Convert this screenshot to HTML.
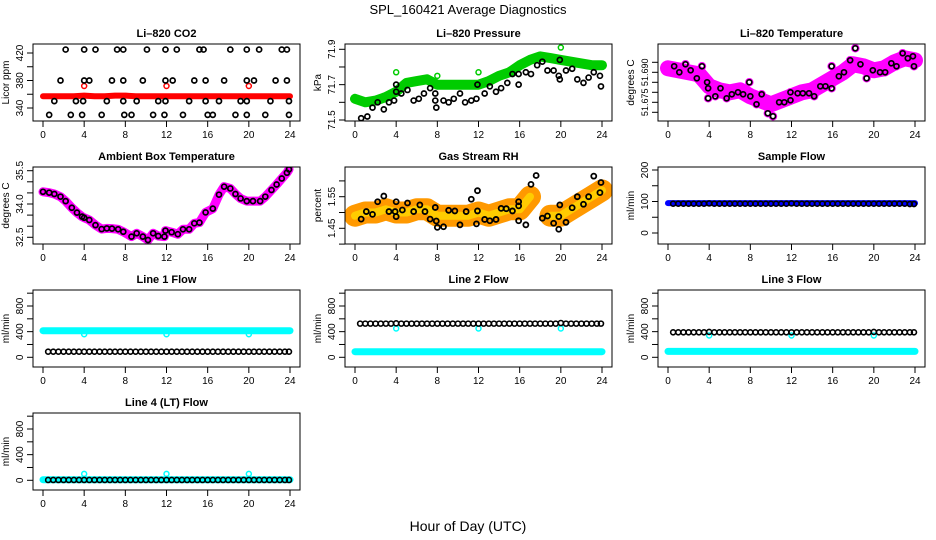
<!DOCTYPE html>
<html><head><meta charset="utf-8">
<style>
html,body{margin:0;padding:0;background:#fff;}
svg{display:block;font-family:"Liberation Sans",sans-serif;}
</style></head>
<body>
<svg id="fig" width="936" height="540" viewBox="0 0 936 540" xmlns="http://www.w3.org/2000/svg">
<text x="468" y="14" text-anchor="middle" font-size="13">SPL_160421  Average Diagnostics</text>
<text x="468" y="531" text-anchor="middle" font-size="14">Hour of Day (UTC)</text>
</svg>
<script>
// ---------- data ----------
const co2Hours = [2.2,4.0,5.1,7.2,7.8,10.1,11.9,13.0,15.2,15.6,18.2,19.8,21.0,23.2,23.7,
 1.7,4.0,4.5,6.7,7.8,9.7,11.9,12.6,14.7,15.8,17.6,19.8,20.5,22.6,23.7,
 1.1,3.2,3.9,6.2,7.8,9.1,11.2,11.9,14.2,15.8,17.1,19.2,19.8,22.1,23.9,
 0.6,2.7,3.8,5.7,7.9,8.6,10.7,11.8,13.6,16.0,16.5,18.7,19.8,21.6,23.9];
const co2Vals = [425,425,425,425,425,425,425,425,425,425,425,425,425,425,425,
 380,380,380,380,380,380,380,380,380,380,380,380,380,380,380,
 350,350,350,350,350,350,350,350,350,350,350,350,350,350,350,
 330,330,330,330,330,330,330,330,330,330,330,330,330,330,330];
const hourly = [0,1,2,3,4,5,6,7,8,9,10,11,12,13,14,15,16,17,18,19,20,21,22,23,24];
const co2Red = [357,357,357,357,358,357,357,358,358,357,357,357,357,357,357,357,357,357,357,357,357,357,357,357,357];
const spikeHours = [4,12,20];
const co2RedSpikes = [372,372,372];

const presGreen = [71.62,71.60,71.61,71.63,71.66,71.71,71.72,71.73,71.70,71.70,71.70,71.70,71.70,71.72,71.75,71.77,71.81,71.84,71.86,71.85,71.84,71.83,71.82,71.81,71.81];
const presGreenOut = [71.77,71.75,71.77,71.91];
const presGreenOutHours = [4,8,12,20];
const presHours = [0.6,1.2,1.7,2.2,2.8,3.3,3.8,4.0,4.0,4.5,5.1,5.7,6.2,6.7,7.3,7.8,7.8,7.9,8.6,9.1,9.6,10.2,10.7,11.3,11.8,11.9,12.6,13.1,13.7,14.2,14.8,15.3,15.9,15.9,16.6,17.1,17.7,18.2,18.7,19.3,19.8,19.9,19.9,20.5,21.1,21.6,22.2,22.7,23.2,23.8,23.9];
const presVals = [71.51,71.52,71.57,71.60,71.56,71.60,71.61,71.70,71.66,71.65,71.67,71.61,71.62,71.65,71.68,71.65,71.61,71.57,71.61,71.60,71.62,71.65,71.60,71.61,71.62,71.70,71.65,71.69,71.66,71.68,71.71,71.76,71.76,71.70,71.77,71.76,71.81,71.83,71.78,71.78,71.75,71.73,71.84,71.78,71.79,71.73,71.71,71.74,71.77,71.75,71.69];

const ltMagenta = [51.692,51.691,51.690,51.689,51.683,51.681,51.680,51.681,51.678,51.676,51.674,51.676,51.678,51.680,51.681,51.684,51.687,51.690,51.694,51.693,51.691,51.692,51.695,51.697,51.696];
const ltHours = [0.6,1.1,1.7,2.2,2.8,3.3,3.8,3.9,3.9,4.6,5.1,5.7,6.2,6.8,7.3,7.9,8.0,8.6,9.1,9.7,10.2,10.8,11.3,11.9,11.9,12.6,13.1,13.7,14.2,14.8,15.3,15.9,15.9,16.6,17.1,17.7,18.2,18.7,19.3,19.9,20.6,21.1,21.7,22.2,22.8,23.3,23.8,23.9];
const ltVals = [51.693,51.690,51.694,51.691,51.687,51.693,51.685,51.677,51.682,51.678,51.682,51.677,51.679,51.680,51.679,51.685,51.678,51.674,51.679,51.6695,51.668,51.675,51.675,51.680,51.676,51.6795,51.6795,51.6795,51.678,51.683,51.683,51.682,51.693,51.688,51.690,51.696,51.702,51.694,51.687,51.691,51.690,51.690,51.6945,51.693,51.6995,51.697,51.698,51.693];

const ambHours = [0,0.6,1.1,1.7,2.2,2.8,3.3,3.8,4.0,4.5,5.1,5.7,6.2,6.7,7.3,7.8,8.6,9.1,9.7,10.2,10.7,11.2,11.8,11.9,12.5,13.1,13.6,14.2,14.7,15.2,15.8,16.5,17.1,17.6,18.2,18.7,19.2,19.8,20.4,21.1,21.6,22.2,22.7,23.2,23.7,23.9];
const ambVals = [34.55,34.51,34.45,34.33,34.13,33.83,33.61,33.43,33.38,33.28,33.05,32.87,32.90,32.89,32.86,32.75,32.53,32.68,32.53,32.38,32.68,32.56,32.53,32.80,32.73,32.64,32.86,32.86,33.13,33.16,33.62,33.79,34.42,34.78,34.70,34.45,34.25,34.13,34.13,34.13,34.33,34.63,34.88,35.15,35.41,35.56];

const rhBand = [1.49,1.50,1.50,1.51,1.50,1.50,1.51,1.51,1.49,1.49,1.49,1.49,1.50,1.49,1.50,1.51,1.51,1.55,null,1.49,1.49,1.51,1.53,1.55,1.57];
const rhHours = [0.6,1.1,1.7,2.2,2.8,3.3,3.9,4.0,4.0,4.6,5.1,5.7,6.3,6.8,7.3,7.8,7.9,8.0,8.6,9.1,9.7,10.2,10.8,11.3,11.8,11.9,11.9,12.6,13.1,13.7,14.2,14.7,15.3,15.9,15.9,15.9,16.6,17.1,17.6,18.2,18.7,19.3,19.8,19.9,19.8,20.5,21.1,21.6,22.2,22.7,23.2,23.8,23.9];
const rhVals = [1.479,1.503,1.494,1.534,1.552,1.503,1.503,1.534,1.487,1.508,1.530,1.503,1.524,1.503,1.479,1.516,1.473,1.453,1.455,1.507,1.505,1.461,1.503,1.542,1.464,1.505,1.569,1.478,1.474,1.478,1.513,1.512,1.505,1.534,1.521,1.474,1.461,1.589,1.617,1.482,1.489,1.466,1.487,1.524,1.447,1.469,1.515,1.550,1.526,1.550,1.615,1.563,1.595];

const sampleBlue = [95,95,95,95,95,95,95,95,95,95,95,95,95,95,95,95,95,95,95,95,95,95,95,95,95];
const flowHours = [0.5,1,1.5,2,2.5,3,3.5,4,4.5,5,5.5,6,6.5,7,7.5,8,8.5,9,9.5,10,10.5,11,11.5,12,12.5,13,13.5,14,14.5,15,15.5,16,16.5,17,17.5,18,18.5,19,19.5,20,20.5,21,21.5,22,22.5,23,23.5,23.9];
const sampleBlack = [93,93,93,93,93,93,93,94,93,93,93,93,93,93,93,93,93,93,93,93,93,93,93,94,93,93,93,93,93,93,93,93,93,93,93,93,93,93,93,93,93,93,93,93,93,93,92,92];
const line1Cyan = [415,415,415,415,415,415,415,415,415,415,415,415,415,415,415,415,415,415,415,415,415,415,415,415,415];
const line1CyanSpikes = [360,360,360];
const line1Black = [88,88,88,88,88,88,88,88,88,88,88,88,88,88,88,88,88,88,88,88,88,88,88,88,88,88,88,88,88,88,88,88,88,88,88,88,88,88,88,88,88,88,88,88,88,88,88,88];
const line2Cyan = [88,88,88,88,88,88,88,88,88,88,88,88,88,88,88,88,88,88,88,88,88,88,88,88,88];
const line2CyanSpikes = [450,450,450];
const line2Black = [525,525,525,525,525,525,525,530,525,525,525,525,525,525,525,525,525,525,525,525,525,525,525,525,525,525,525,525,525,525,525,525,525,525,525,525,525,525,525,535,525,525,525,525,525,525,525,525];
const line3Cyan = [92,92,92,92,92,92,92,92,92,92,92,92,92,92,92,92,92,92,92,92,92,92,92,92,92];
const line3CyanSpikes = [340,340,340];
const line3Black = [390,390,390,390,390,390,390,395,390,390,390,390,390,390,390,390,390,390,390,390,390,390,390,390,390,390,390,390,390,390,390,390,390,390,390,390,390,390,390,395,390,390,390,390,390,390,390,390];
const line4Cyan = [10,10,10,10,10,10,10,10,10,10,10,10,10,10,10,10,10,10,10,10,10,10,10,10,10];
const line4CyanSpikes = [100,100,100];
const line4Black = [5,5,5,5,5,5,5,5,5,5,5,5,5,5,5,5,5,5,5,5,5,5,5,5,5,5,5,5,5,5,5,5,5,5,5,5,5,5,5,5,5,5,5,5,5,5,5,5];

const xTicks = [0,4,8,12,16,20,24];

// ---------- drawing ----------
const NS = 'http://www.w3.org/2000/svg';
const svg = document.getElementById('fig');
const COLS = [33,345,658], ROWS = [44,167,290,413], W = 267, H = 77;
let clipId = 0;
function mk(tag, attrs, parent){
  const e = document.createElementNS(NS, tag);
  for (const k in attrs) e.setAttribute(k, attrs[k]);
  (parent||svg).appendChild(e);
  return e;
}
function makePanel(col,row,name,title,ylab,cal,ticks,labels,lfs){
  const L = COLS[col], T = ROWS[row];
  const g = mk('g',{});
  
  
  const x = h => L + 10 + h*(W-20)/24;
  const y = v => T + cal[1] + (v-cal[0])*(cal[3]-cal[1])/(cal[2]-cal[0]);
  const t = mk('text',{x:L+W/2,y:T-7,'text-anchor':'middle','font-size':11,'font-weight':'bold'},g);
  t.textContent = title;
  
  
  const yl = mk('text',{x:0,y:0,'text-anchor':'middle','font-size':10,transform:`translate(${L-24},${T+H/2}) rotate(-90)`},g);
  yl.textContent = ylab;
  
  
  const xa = mk('g',{},g);
  
  
  mk('line',{x1:x(0),x2:x(24),y1:T+H,y2:T+H,stroke:'#000'},xa);
  xTicks.forEach(v=>{
    mk('line',{x1:x(v),x2:x(v),y1:T+H,y2:T+H+6,stroke:'#000'},xa);
    const tl = mk('text',{x:x(v),y:T+H+17,'text-anchor':'middle','font-size':10},xa);
    tl.textContent = v;
  });
  const ya = mk('g',{},g);
  
  
  mk('line',{x1:L,x2:L,y1:y(ticks[0]),y2:y(ticks[ticks.length-1]),stroke:'#000'},ya);
  ticks.forEach(v=>{
    mk('line',{x1:L-6,x2:L,y1:y(v),y2:y(v),stroke:'#000'},ya);
  });
  labels.forEach(v=>{
    const tl = mk('text',{x:0,y:0,'text-anchor':'middle','font-size':lfs||10,transform:`translate(${L-10},${y(v[0])}) rotate(-90)`},ya);
    tl.textContent = v[1];
  });
  const cid = 'c'+(clipId++);
  const cp = mk('clipPath',{id:cid},g);
  mk('rect',{x:L,y:T,width:W,height:H},cp);
  const plot = mk('g',{'clip-path':`url(#${cid})`},g);
  
  
  mk('rect',{x:L,y:T,width:W,height:H,fill:'none',stroke:'#000'},g);
  return {x,y,plot};
}
function band(p,hours,vals,color,width,name){
  let segs=[], cur=[];
  hours.forEach((h,i)=>{ if(vals[i]==null){ if(cur.length) segs.push(cur); cur=[]; } else cur.push(p.x(h).toFixed(1)+','+p.y(vals[i]).toFixed(1)); });
  if(cur.length) segs.push(cur);
  segs.forEach(s=>{
    const pl = mk('polyline',{points:s.join(' '),fill:'none',stroke:color,'stroke-width':width,'stroke-linejoin':'round','stroke-linecap':'round'},p.plot);
    
    
  });
}
function pts(p,hours,vals,color,r,sw,name){
  hours.forEach((h,i)=>{
    const c = mk('circle',{cx:p.x(h),cy:p.y(vals[i]),r:r,fill:'none',stroke:color,'stroke-width':sw},p.plot);
    
    
  });
}

let p = makePanel(0,0,'co2','Li\u2013820 CO2','Licor ppm',[340,64,420,9],[340,360,380,400,420],[[340,'340'],[380,'380'],[420,'420']]);
band(p,hourly,co2Red,'#ff0000',6,'co2-red-series');
pts(p,spikeHours,co2RedSpikes,'#ff0000',2.5,1.5,'co2-red-outlier');
pts(p,co2Hours,co2Vals,'#000',2.5,1.7,'co2-point');

p = makePanel(1,0,'pressure','Li\u2013820 Pressure','kPa',[71.5,76,71.9,5.3],[71.5,71.6,71.7,71.8,71.9],[[71.5,'71.5'],[71.7,'71.7'],[71.9,'71.9']]);
band(p,hourly,presGreen,'#00cc00',10,'pressure-green-series');
pts(p,presGreenOutHours,presGreenOut,'#00cc00',2.5,1.5,'pressure-green-outlier');
pts(p,presHours,presVals,'#000',2.5,1.7,'pressure-point');

p = makePanel(2,0,'li820-temp','Li\u2013820 Temperature','degrees C',[51.675,58.3,51.690,28.3],[51.670,51.675,51.680,51.685,51.690,51.695],[[51.675,'51.675'],[51.690,'51.690']],9);
band(p,hourly,ltMagenta,'#ff00ff',16,'li820-temp-magenta-series');
pts(p,ltHours,ltVals,'#ff00ff',3.5,1.5,'li820-temp-magenta-point');
pts(p,ltHours,ltVals,'#000',2.5,1.7,'li820-temp-point');

p = makePanel(0,1,'ambient-temp','Ambient Box Temperature','degrees C',[32.5,70.3,35.5,3.7],[32.5,33,33.5,34,34.5,35,35.5],[[32.5,'32.5'],[34.0,'34.0'],[35.5,'35.5']]);
band(p,ambHours,ambVals,'#ff00ff',9,'ambient-temp-magenta-series');
pts(p,ambHours,ambVals,'#000',2.5,1.7,'ambient-temp-point');

p = makePanel(1,1,'gas-rh','Gas Stream RH','percent',[1.45,61.3,1.55,29.7],[1.40,1.45,1.50,1.55,1.60],[[1.45,'1.45'],[1.55,'1.55']]);
band(p,hourly,rhBand,'#ff9900',22,'gas-rh-orange-series');
band(p,hourly,rhBand,'#ffcc00',8,'gas-rh-yellow-series');
pts(p,rhHours,rhVals,'#000',2.5,1.8,'gas-rh-point');

p = makePanel(2,1,'sample-flow','Sample Flow','ml/min',[0,66,200,3],[0,50,100,150,200],[[0,'0'],[100,'100'],[200,'200']]);
band(p,hourly,sampleBlue,'#0000ff',6,'sample-flow-blue-series');
pts(p,flowHours,sampleBlack,'#000',2.5,1.6,'sample-flow-point');

const flowTicks=[0,200,400,600,800,1000], flowLabels=[[0,'0'],[400,'400'],[800,'800']];
const flowCal=[0,67.3,800,16];
function flowPanel(col,row,name,title,cyan,spikes,black){
  const q = makePanel(col,row,name,title,'ml/min',flowCal,flowTicks,flowLabels);
  band(q,hourly,cyan,'#00ffff',7,name+'-cyan-series');
  pts(q,spikeHours,spikes,'#00ffff',2.5,1.5,name+'-cyan-outlier');
  pts(q,flowHours,black,'#000',2.5,1.6,name+'-point');
}
flowPanel(0,2,'line1-flow','Line 1 Flow',line1Cyan,line1CyanSpikes,line1Black);
flowPanel(1,2,'line2-flow','Line 2 Flow',line2Cyan,line2CyanSpikes,line2Black);
flowPanel(2,2,'line3-flow','Line 3 Flow',line3Cyan,line3CyanSpikes,line3Black);
flowPanel(0,3,'line4-flow','Line 4 (LT) Flow',line4Cyan,line4CyanSpikes,line4Black);
</script>
</body></html>
